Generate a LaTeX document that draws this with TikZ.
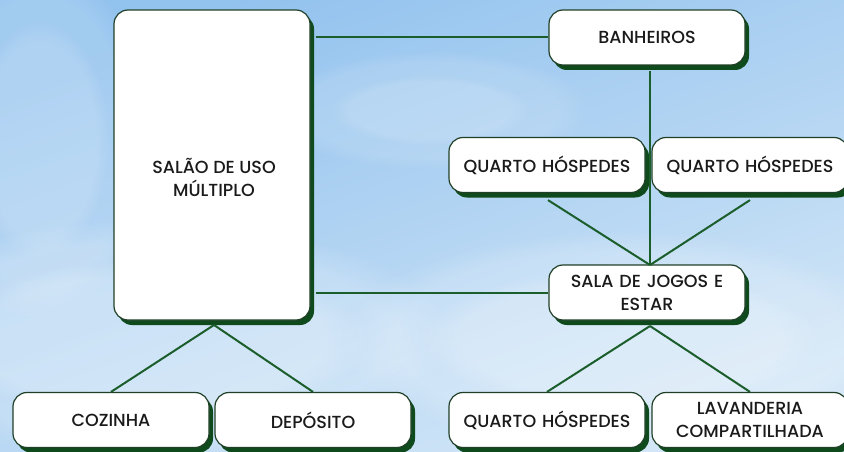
\documentclass[tikz,border=0pt]{standalone}
\usepackage{fontspec}
\setmainfont{Poppins}[UprightFont={* Medium}]
\usetikzlibrary{shadows,fadings}
\definecolor{linegreen}{HTML}{1B5E2B}
\definecolor{shadowgreen}{HTML}{0E4A1C}
\definecolor{bordergreen}{HTML}{1F3F26}
\definecolor{skyA}{HTML}{92C2EE}
\definecolor{skyB}{HTML}{D2E6F7}
\definecolor{txt}{HTML}{1A1A1A}
\tikzset{
  box/.style={draw=bordergreen, line width=1.2pt, fill=white, rounded corners=14pt,
    minimum width=196pt, minimum height=55pt, inner sep=0pt, align=center,
    text width=194pt, text=txt, font=\fontsize{17.5}{23}\selectfont,
    drop shadow={shadow xshift=4pt, shadow yshift=-5pt, fill=shadowgreen, opacity=1}},
  label/.style={align=center, text=txt, inner sep=0pt, font=\fontsize{17.5}{23}\selectfont},
  link/.style={draw=linegreen, line width=2pt},
  cloud/.style={fill=white, path fading=circle with fuzzy edge 20 percent}
}
\begin{document}
\begin{tikzpicture}[x=1pt,y=-1pt]
\clip (0,0) rectangle (844,452);
\useasboundingbox (0,0) rectangle (844,452);
\shade[shading=axis, top color=skyA, bottom color=skyB, shading angle=20] (0,0) rectangle (844,452);
\fill[cloud, opacity=0.2] (150,340) ellipse (300 and 120);
\fill[cloud, opacity=0.2] (150,340) ellipse (220 and 80);
\fill[cloud, opacity=0.2] (620,340) ellipse (280 and 110);
\fill[cloud, opacity=0.2] (620,340) ellipse (200 and 70);
\fill[cloud, opacity=0.15] (40,140) ellipse (110 and 180);
\fill[cloud, opacity=0.15] (40,140) ellipse (70 and 120);
\fill[cloud, opacity=0.12] (430,110) ellipse (160 and 60);
\fill[cloud, opacity=0.12] (430,110) ellipse (100 and 35);
% nodes
\node[box, minimum height=310pt] (salao) at (212,165) {};
\node[label] (salaot) at (214,177) {SALÃO DE USO\\MÚLTIPLO};
\node[box] (banh) at (647,37.5) {BANHEIROS};
\node[box] (q1) at (547,165) {QUARTO HÓSPEDES};
\node[box] (q2) at (750,165) {QUARTO HÓSPEDES};
\node[box] (sala) at (647,292.5) {SALA DE JOGOS E\\ESTAR};
\node[box] (coz) at (111,420) {COZINHA};
\node[box] (dep) at (313,420) {DEPÓSITO};
\node[box] (q3) at (547,420) {QUARTO HÓSPEDES};
\node[box] (lav) at (750,420) {LAVANDERIA\\COMPARTILHADA};
% links
\coordinate (hub) at (650,265);
\coordinate (sb) at (214,325);
\coordinate (gb) at (650,326);
\path[link] (salao.east |- banh.west) ++(5,0) -- (banh.west);
\path[link] (salao.east |- sala.west) ++(5,0) -- (sala.west);
\path[link] (banh.south) ++(3,5) -- (hub);
\path[link] (q1.south) ++(1,7) -- (hub);
\path[link] (q2.south) ++(0,7) -- (hub);
\path[link] (sb) -- (coz.north);
\path[link] (sb) -- (dep.north);
\path[link] (gb) -- (q3.north);
\path[link] (gb) -- (lav.north);
\end{tikzpicture}
\end{document}
